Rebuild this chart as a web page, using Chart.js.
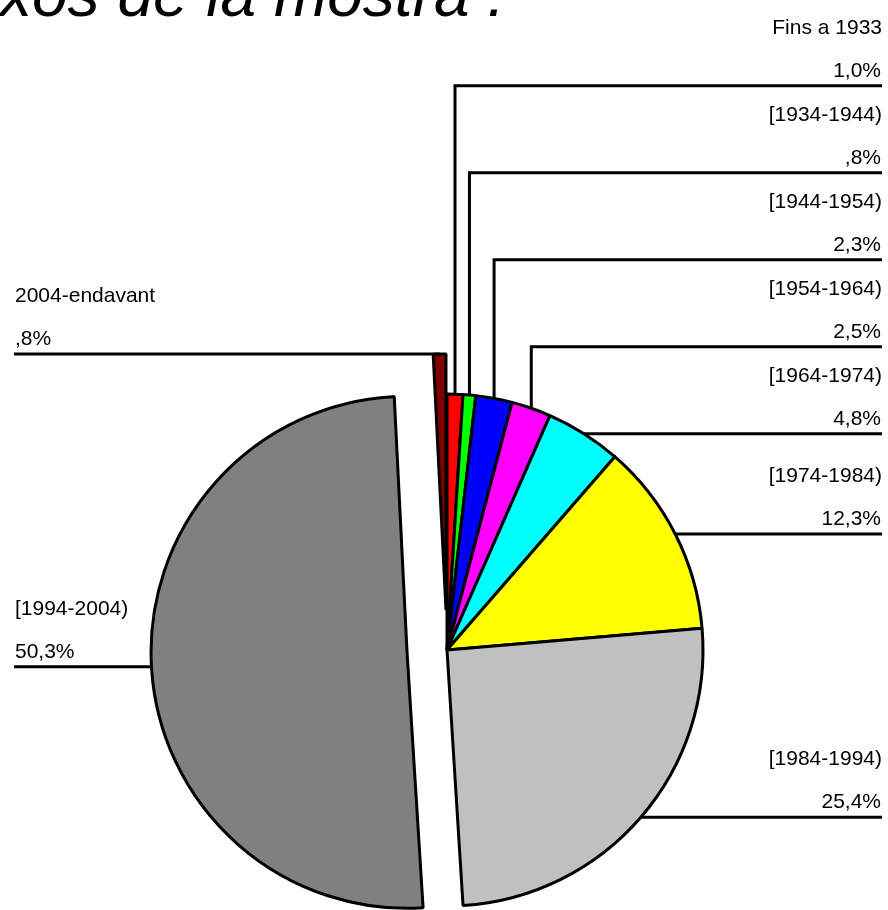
<!DOCTYPE html>
<html>
<head>
<meta charset="utf-8">
<style>
  html, body { margin: 0; padding: 0; background: #ffffff; }
  #wrap { position: relative; width: 888px; height: 910px; overflow: hidden; }
  #title { position: absolute; left: 0; top: -41px; font: italic 64px "Liberation Sans", Arial, sans-serif; color: #000; white-space: nowrap; line-height: 70px; }
  canvas { position: absolute; left: 0; top: 0; }
</style>
<script src="https://cdn.jsdelivr.net/npm/chart.js@4/dist/chart.umd.min.js"></script>
</head>
<body>
<div id="wrap">
  <canvas id="c" width="888" height="910"></canvas>
  <div id="title">xos de la mostra :</div>
</div>
<script>
// ---- data ----
const categories = ["Fins a 1933", "[1934-1944)", "[1944-1954)", "[1954-1964)", "[1964-1974)", "[1974-1984)", "[1984-1994)", "[1994-2004)", "2004-endavant"];
const percents = [1.0, 0.8, 2.3, 2.5, 4.8, 12.3, 25.4, 50.3, 0.8];
const explodedCategories = ["[1994-2004)", "2004-endavant"];

// ---- styles ----
const sliceColors = ["#ff0000", "#00ff00", "#0000ff", "#ff00ff", "#00ffff", "#ffff00", "#c0c0c0", "#808080", "#800000"];
const FONT = '21px "Liberation Sans", Arial, sans-serif';
const EXPLODE_PX = 40;

function fmtPct(v) {
  let s = v.toFixed(1).replace('.', ',');
  if (s.startsWith('0,')) s = s.slice(1);
  return s + '%';
}

function explodeOf(i) {
  return explodedCategories.includes(categories[i]) ? EXPLODE_PX : 0;
}

// pure translation of exploded slices (keeps radius and angles intact)
const explodePlugin = {
  id: 'explode',
  afterDatasetsUpdate(chart) {
    const meta = chart.getDatasetMeta(0);
    meta.data.forEach((el, i) => {
      if (el._explodeWrapped) return;
      const orig = el.draw;
      el.draw = function (ctx, area) {
        const d = explodeOf(i);
        if (!d) return orig.call(this, ctx, area);
        const mid = (this.startAngle + this.endAngle) / 2;
        ctx.save();
        ctx.translate(Math.cos(mid) * d, Math.sin(mid) * d);
        orig.call(this, ctx, area);
        ctx.restore();
      };
      el._explodeWrapped = true;
    });
  }
};

const leaderPlugin = {
  id: 'leaders',
  afterDatasetsDraw(chart) {
    const ctx = chart.ctx;
    const meta = chart.getDatasetMeta(0);
    const ds = chart.data.datasets[0];
    const pts = meta.data.map((arc, i) => {
      const p = arc.getProps(['x', 'y', 'startAngle', 'endAngle', 'outerRadius'], true);
      const mid = (p.startAngle + p.endAngle) / 2;
      const r = p.outerRadius + explodeOf(i);
      return { i, x: p.x + Math.cos(mid) * r, y: p.y + Math.sin(mid) * r, cx: p.x };
    });
    const right = pts.filter(p => p.x >= p.cx);
    const left = pts.filter(p => p.x < p.cx);
    const gap = 87;
    for (let k = right.length - 1; k >= 0; k--) {
      right[k].ly = right[k].y;
      if (k < right.length - 1) right[k].ly = Math.min(right[k].ly, right[k + 1].ly - gap);
    }
    left.sort((a, b) => a.y - b.y);
    for (let k = 0; k < left.length; k++) {
      left[k].ly = left[k].y;
      if (k > 0) left[k].ly = Math.max(left[k].ly, left[k - 1].ly + gap);
    }
    ctx.save();
    ctx.strokeStyle = '#000';
    ctx.lineWidth = 3;
    ctx.lineJoin = 'miter';
    ctx.fillStyle = '#000';
    ctx.font = FONT;
    ctx.textBaseline = 'alphabetic';
    const xr = 882, xl = 14;
    right.forEach(p => {
      ctx.beginPath();
      ctx.moveTo(p.x, p.y);
      ctx.lineTo(p.x, p.ly);
      ctx.lineTo(xr, p.ly);
      ctx.stroke();
      ctx.textAlign = 'right';
      ctx.fillText(chart.data.labels[p.i], xr, p.ly - 52);
      ctx.fillText(fmtPct(ds.data[p.i]), xr - 1, p.ly - 9);
    });
    left.forEach(p => {
      ctx.beginPath();
      ctx.moveTo(p.x, p.y);
      ctx.lineTo(p.x, p.ly);
      ctx.lineTo(xl, p.ly);
      ctx.stroke();
      ctx.textAlign = 'left';
      ctx.fillText(chart.data.labels[p.i], xl + 1, p.ly - 52);
      ctx.fillText(fmtPct(ds.data[p.i]), xl + 1, p.ly - 9);
    });
    ctx.restore();
  }
};

new Chart(document.getElementById('c'), {
  type: 'pie',
  data: {
    labels: categories,
    datasets: [{
      data: percents,
      backgroundColor: sliceColors,
      borderColor: '#000000',
      borderWidth: 3,
      clip: false
    }]
  },
  options: {
    responsive: false,
    animation: false,
    devicePixelRatio: 1,
    radius: 256,
    layout: { padding: { top: 390, bottom: 0, left: 6, right: 0 } },
    plugins: {
      legend: { display: false },
      tooltip: { enabled: false },
      title: { display: false }
    }
  },
  plugins: [explodePlugin, leaderPlugin]
});
</script>
</body>
</html>
